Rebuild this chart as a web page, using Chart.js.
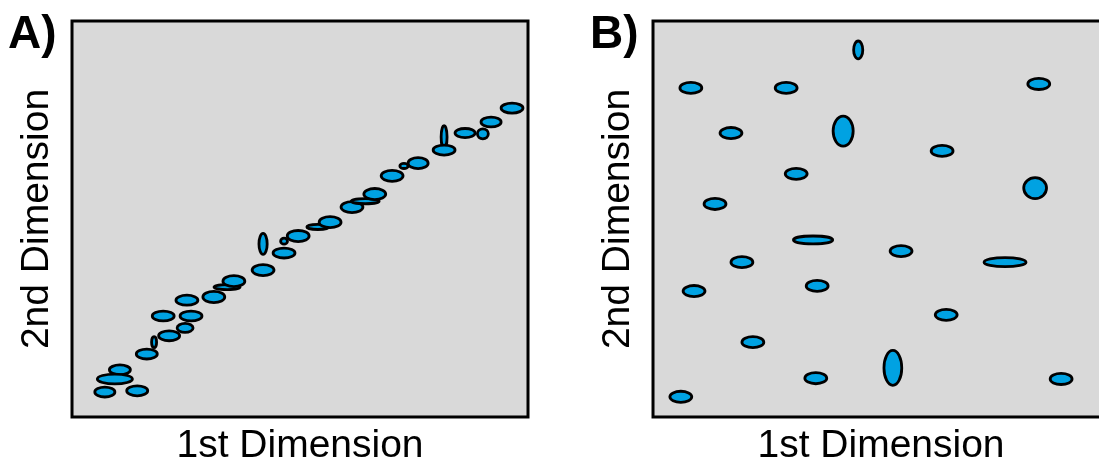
<!DOCTYPE html>
<html><head><meta charset="utf-8">
<script src="https://cdn.jsdelivr.net/npm/chart.js@4/dist/chart.umd.min.js"></script>
<style>
html,body{margin:0;padding:0;background:#fff;width:1099px;height:463px;overflow:hidden;position:relative}
.panel{position:absolute;top:0;width:540px;height:463px}
.lbl{position:absolute;top:9px;font:bold 46px/46px "Liberation Sans",Arial,sans-serif;color:#000}
</style></head><body>
<div class="panel" style="left:0"><canvas id="cA" width="540" height="463"></canvas></div>
<div class="panel" style="left:581px"><canvas id="cB" width="540" height="463"></canvas></div>
<div class="lbl" style="left:8px" id="lA"></div>
<div class="lbl" style="left:590px" id="lB"></div>
<script>
const xTitle = '1st Dimension';
const yTitle = '2nd Dimension';
const panelLabels = ['A)', 'B)'];

// Panel A: centres (x, y) and ellipse extents (w, h) in dimension units
const aX = [7.2,14.3,10.5,9.4,16.4,18.0,21.3,24.8,20.0,26.1,25.2,31.1,34.0,35.5,41.9,41.9,46.5,46.5,49.6,53.9,56.6,61.4,64.3,66.4,70.2,72.8,75.9,81.6,81.6,86.2,90.1,91.9,96.5];
const aY = [6.3,6.6,11.9,9.6,15.9,18.9,20.5,22.5,25.5,25.5,29.5,30.3,32.8,34.3,37.1,43.7,44.4,41.4,45.7,48.0,49.2,53.0,54.5,56.3,60.9,63.4,64.1,70.7,67.4,71.7,71.5,74.5,78.0];
const aW = [4.4,4.6,4.6,7.7,4.6,1.1,4.6,3.5,4.8,4.8,4.8,4.8,5.7,4.8,4.8,1.8,1.5,4.8,4.8,4.8,4.8,4.8,6.1,4.8,4.8,1.8,4.4,1.3,4.8,4.4,2.4,4.4,4.8];
const aH = [2.5,2.5,2.5,2.5,2.5,2.8,2.5,2.3,2.5,2.5,2.5,2.8,1.3,2.8,2.8,5.3,1.5,2.5,2.8,1.3,2.8,2.8,1.3,2.8,2.8,1.3,2.8,5.8,2.5,2.3,2.5,2.5,2.5];

// Panel B
const bX = [45.0,8.3,29.2,84.6,17.1,41.7,63.4,31.4,83.8,13.6,35.1,54.4,19.5,77.2,9.0,36.0,64.3,21.9,35.7,52.6,89.5,6.1];
const bY = [92.7,83.1,83.1,84.1,71.7,72.2,67.2,61.4,57.8,53.8,44.7,41.9,39.1,39.1,31.8,33.1,25.8,18.9,9.8,12.4,9.6,5.1];
const bW = [2.0,4.8,4.8,4.8,4.8,4.4,4.8,4.8,5.0,4.8,8.6,4.8,4.8,9.2,4.8,4.8,4.8,4.8,4.8,3.9,4.8,4.8];
const bH = [4.5,2.8,2.8,2.8,2.8,7.6,2.8,2.8,5.3,2.8,2.0,2.8,2.8,2.3,2.8,2.8,2.8,2.8,2.8,8.8,2.8,2.8];

const FONT = '"Liberation Sans", Arial, sans-serif';
const FILL = '#00a2e2';
const BG = '#d9d9d9';

document.getElementById('lA').textContent = panelLabels[0];
document.getElementById('lB').textContent = panelLabels[1];

const ellipsePlugin = {
  id: 'ellipses',
  beforeDatasetsDraw(chart) {
    const a = chart.chartArea, ctx = chart.ctx;
    ctx.save();
    ctx.fillStyle = BG;
    ctx.fillRect(a.left, a.top, a.right - a.left, a.bottom - a.top);
    ctx.restore();
  },
  afterDatasetsDraw(chart) {
    const ctx = chart.ctx, xs = chart.scales.x, ys = chart.scales.y;
    ctx.save();
    chart.data.datasets.forEach((ds, di) => {
      const meta = chart.getDatasetMeta(di);
      meta.data.forEach((pt, i) => {
        const d = ds.data[i];
        const rx = Math.abs(xs.getPixelForValue(d.x + d.w / 2) - xs.getPixelForValue(d.x - d.w / 2)) / 2;
        const ry = Math.abs(ys.getPixelForValue(d.y + d.h / 2) - ys.getPixelForValue(d.y - d.h / 2)) / 2;
        ctx.beginPath();
        ctx.ellipse(pt.x, pt.y, rx, ry, 0, 0, Math.PI * 2);
        ctx.fillStyle = FILL;
        ctx.fill();
        ctx.lineWidth = 2.8;
        ctx.strokeStyle = '#000';
        ctx.stroke();
      });
    });
    ctx.restore();
  },
  afterDraw(chart) {
    const a = chart.chartArea, ctx = chart.ctx;
    ctx.save();
    ctx.lineWidth = 3;
    ctx.strokeStyle = '#000';
    ctx.strokeRect(a.left, a.top, a.right - a.left, a.bottom - a.top);
    ctx.restore();
  }
};

function makeChart(id, X, Y, W, H) {
  const pts = X.map((x, i) => ({ x: x, y: Y[i], w: W[i], h: H[i] }));
  return new Chart(document.getElementById(id), {
    type: 'scatter',
    data: { datasets: [{ data: pts, pointRadius: 0, pointHoverRadius: 0 }] },
    options: {
      responsive: false,
      animation: false,
      devicePixelRatio: 1,
      layout: { padding: { top: 21, right: 12, left: 0, bottom: 0 } },
      plugins: { legend: { display: false }, tooltip: { enabled: false } },
      events: [],
      scales: {
        x: {
          type: 'linear', min: 0, max: 100,
          grid: { display: false, drawTicks: false },
          border: { display: false },
          ticks: { display: false },
          title: { display: true, text: xTitle, color: '#000',
                   font: { family: FONT, size: 39, lineHeight: 0.872 },
                   padding: { top: 12, bottom: 0 } }
        },
        y: {
          type: 'linear', min: 0, max: 100,
          grid: { display: false, drawTicks: false },
          border: { display: false },
          ticks: { display: false },
          title: { display: true, text: yTitle, color: '#000',
                   font: { family: FONT, size: 39, lineHeight: 0.872 },
                   padding: { top: 20, bottom: 18 } }
        }
      }
    },
    plugins: [ellipsePlugin]
  });
}

makeChart('cA', aX, aY, aW, aH);
makeChart('cB', bX, bY, bW, bH);
</script>
</body></html>
